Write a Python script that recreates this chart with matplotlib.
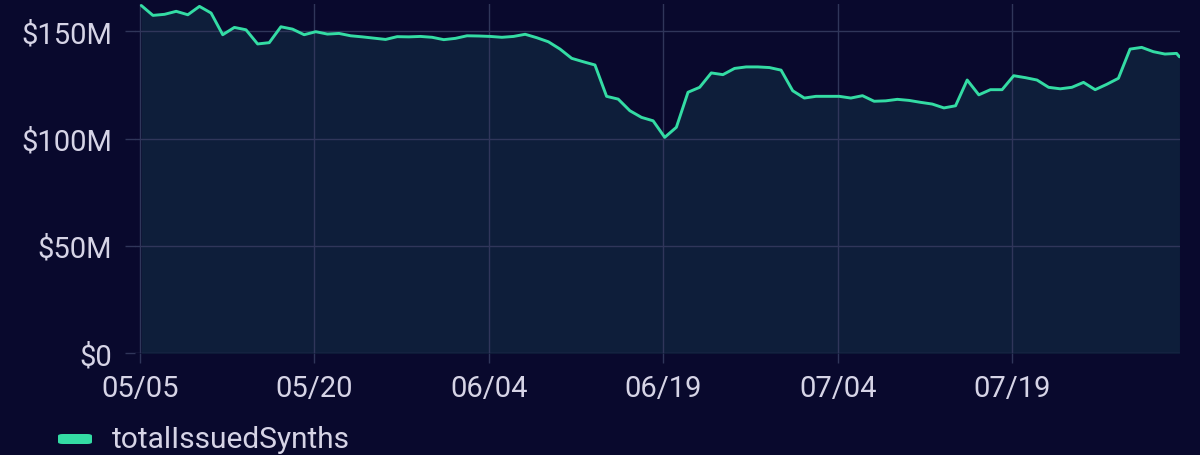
import matplotlib
matplotlib.use('Agg')
import matplotlib.pyplot as plt
import matplotlib.dates as mdates
from matplotlib.patches import FancyBboxPatch
from matplotlib.ticker import FuncFormatter
import pandas as pd

plt.rcParams['font.family'] = ['Roboto', 'DejaVu Sans']

# Daily totalIssuedSynths (millions of USD)
series_name = 'totalIssuedSynths'
values = [
    162.0, 157.4, 157.9, 159.3, 157.7, 161.6, 158.5, 148.4, 151.8, 150.7,
    144.1, 144.7, 152.1, 151.0, 148.4, 149.8, 148.7, 149.0, 147.9, 147.4,
    146.8, 146.2, 147.5, 147.4, 147.6, 147.2, 146.1, 146.7, 147.9, 147.8,
    147.6, 147.2, 147.6, 148.6, 147.0, 145.1, 141.7, 137.4, 135.8, 134.3,
    119.7, 118.4, 113.0, 109.9, 108.3, 100.6, 105.3, 121.6, 123.9, 130.6,
    129.8, 132.7, 133.4, 133.4, 133.1, 131.9, 122.3, 118.9, 119.7, 119.7,
    119.7, 118.9, 120.0, 117.4, 117.6, 118.3, 117.8, 116.9, 116.1, 114.3,
    115.3, 127.3, 120.4, 122.8, 122.8, 129.3, 128.4, 127.3, 123.9, 123.2,
    123.9, 126.2, 122.8, 125.3, 128.1, 141.7, 142.5, 140.5, 139.4, 139.7,
    138.1,
]
dates = list(pd.date_range('2021-05-05 03:00', periods=90, freq='D')) + [pd.Timestamp('2021-08-02 09:00')]
tick_dates = ['2021-05-05', '2021-05-20', '2021-06-04', '2021-06-19', '2021-07-04', '2021-07-19']
y_ticks = [0, 50, 100, 150]

bg = '#09092d'
fill_col = '#0e1e3a'
line_col = '#34dca4'
grid_col = '#30365a'
text_col = '#d6d4e6'

fig = plt.figure(figsize=(12, 4.56), dpi=100, facecolor=bg)
ax = fig.add_axes([0.1125, 0.223, 0.8708, 0.766])
ax.set_facecolor(bg)

ax.fill_between(dates, values, 0, color=fill_col, lw=0, zorder=1)
ax.plot(dates, values, color=line_col, lw=2.1, zorder=3,
        solid_joinstyle='round', solid_capstyle='round')

ax.set_ylim(0, 162.7)
ax.set_xlim(pd.Timestamp('2021-05-04 14:00'), pd.Timestamp('2021-08-02 10:00'))
ax.set_yticks(y_ticks)
ax.yaxis.set_major_formatter(FuncFormatter(lambda v, p: '$0' if v == 0 else f'${v:.0f}M'))
ax.set_xticks(pd.to_datetime(tick_dates))
ax.xaxis.set_major_formatter(mdates.DateFormatter('%m/%d'))

ax.grid(True, color=grid_col, lw=1)
ax.tick_params(axis='both', colors=grid_col, labelcolor=text_col, labelsize=21, length=7.2, width=1)
ax.tick_params(axis='y', pad=9.5)
ax.tick_params(axis='x', pad=7.5)
for s in ax.spines.values():
    s.set_visible(False)

# legend
fig.patches.append(FancyBboxPatch((58 / 1200, 1 - 445 / 456), 34 / 1200, 10 / 456,
                                  boxstyle='round,pad=0,rounding_size=0.004',
                                  transform=fig.transFigure, color=line_col, lw=0))
fig.text(112 / 1200, 1 - 440 / 456, series_name, color=text_col, fontsize=21.5, va='center', ha='left')

fig.savefig('out.png', dpi=100, facecolor=bg)
